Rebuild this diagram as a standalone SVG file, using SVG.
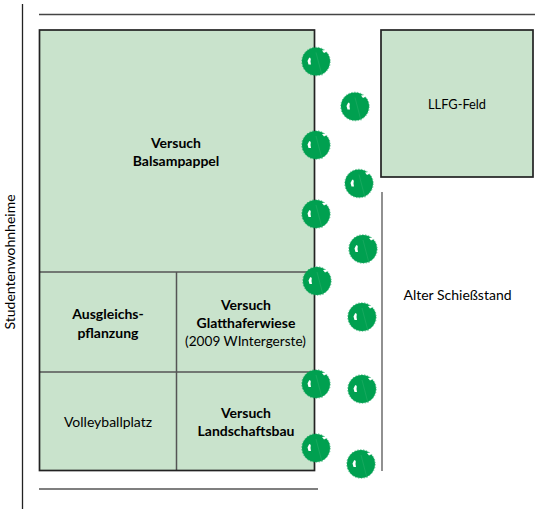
<svg xmlns="http://www.w3.org/2000/svg" width="541" height="513" viewBox="0 0 541 513">
<style>
.f{fill:#c9e3cc;stroke:none}
.o{fill:none;stroke:#222;stroke-width:1.7}
.d{fill:none;stroke:#555;stroke-width:1.5}
.t{font-family:Lato,"Liberation Sans",sans-serif;font-size:14px;fill:#000;text-anchor:middle}
.b{font-weight:700}
</style>
<defs>
<g id="tree">
<circle r="14" fill="#00a050"/>
<circle r="14.300" fill="none" stroke="#00a050" stroke-width=".8" stroke-dasharray="1.500 1.500" opacity=".7"/>
<path d="M-6-4L-7-3.500L-8.500-.5L-7.500 3L-5 3L-5.500 0L-5.200-2.500Z" fill="#fff"/>
<path d="M6-11L8-8.500L11-10L9.500-11.500Z" fill="#fff"/>
<path d="M0-9L6 14" stroke="#25ad68" stroke-width=".6" fill="none"/>
</g>
</defs>
<g id="connectors">
<path d="M22.500 4V509" fill="none" stroke="#222" stroke-width="1.300"/>
<path d="M39 14.500H535" fill="none" stroke="#444" stroke-width="1.300"/>
<path d="M39 489H318" fill="none" stroke="#555" stroke-width="1.300"/>
<path d="M382 192V471" fill="none" stroke="#555" stroke-width="1.300"/>
</g>
<g id="versuch-balsampappel">
<rect class="f" x="39.500" y="30" width="275" height="242"/>
<text class="t b" x="176" y="148">Versuch</text>
<text class="t b" x="176" y="166">Balsampappel</text>
</g>
<g id="ausgleichspflanzung">
<rect class="f" x="39.500" y="272" width="137" height="100"/>
<text class="t b" x="108" y="319">Ausgleichs-</text>
<text class="t b" x="108" y="338">pflanzung</text>
</g>
<g id="glatthaferwiese">
<rect class="f" x="176.500" y="272" width="138" height="100"/>
<text class="t b" x="246" y="310">Versuch</text>
<text class="t b" x="246" y="328">Glatthaferwiese</text>
<text class="t" x="245.500" y="346" font-size="13.600" style="font-size:13.600px">(2009 WIntergerste)</text>
</g>
<g id="volleyballplatz">
<rect class="f" x="39.500" y="372" width="137" height="98.500"/>
<text class="t" x="108" y="427">Volleyballplatz</text>
</g>
<g id="landschaftsbau">
<rect class="f" x="176.500" y="372" width="138" height="98.500"/>
<text class="t b" x="246" y="418">Versuch</text>
<text class="t b" x="246" y="436">Landschaftsbau</text>
</g>
<g id="raster">
<path class="d" d="M39.500 272H314.500M39.500 372H314.500M176.500 272V470.500"/>
<rect class="o" x="39.500" y="30" width="275" height="440.500"/>
</g>
<g id="llfg-feld">
<rect class="f" x="381" y="30" width="152" height="147"/>
<rect class="o" x="381" y="30" width="152" height="147"/>
<text class="t" x="457" y="109" style="font-size:12.800px">LLFG-Feld</text>
</g>
<g id="alter-schiessstand">
<text class="t" x="457.500" y="300">Alter Schießstand</text>
</g>
<g id="studentenwohnheime">
<text class="t" transform="translate(15 262) rotate(-90)">Studentenwohnheime</text>
</g>
<g id="trees">
<use href="#tree" x="316" y="61.500"/>
<use href="#tree" x="355" y="106.500"/>
<use href="#tree" x="316" y="145"/>
<use href="#tree" x="359" y="183.500"/>
<use href="#tree" x="316" y="214"/>
<use href="#tree" x="363" y="249"/>
<use href="#tree" x="317" y="281"/>
<use href="#tree" x="362" y="317"/>
<use href="#tree" x="316" y="384"/>
<use href="#tree" x="362" y="389"/>
<use href="#tree" x="316" y="448"/>
<use href="#tree" x="361" y="464"/>
</g>
</svg>
